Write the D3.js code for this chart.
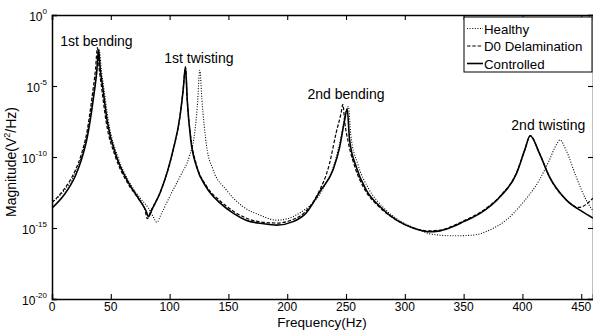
<!DOCTYPE html>
<html lang="en">
<head>
<meta charset="UTF-8">
<title>Frequency response</title>
<script src="https://d3js.org/d3.v7.min.js"></script>
<style>
    body { margin: 0; background: #fff; }
    svg { font-family: "Liberation Sans", Arial, sans-serif; }
    .curve { fill: none; stroke: #000; }
</style>
</head>
<body>
<svg id="chart" width="593" height="332"></svg>
<script>
    // values: [frequency Hz, log10 magnitude]
    var healthy = [
        [0, -13.2], [10, -12.4], [20, -11.1], [25, -10.0], [30, -8.3], [35, -5.7], [38.5, -3.8],
        [40.2, -2.45], [42, -3.9], [44, -5.1], [48, -7.5], [56, -10.0], [66, -11.8], [76, -13.0],
        [82, -13.6], [86, -14.2], [89, -14.6], [93, -14.0], [100, -12.8], [108.7, -11.4], [117, -9.9],
        [121, -8.5], [123.5, -6.5], [125.7, -3.9], [127.5, -6.0], [131.4, -9.2], [137, -10.9],
        [148, -12.3], [162.5, -13.5], [177, -14.1], [191, -14.45], [205, -14.2], [215, -13.7],
        [222, -13.25], [232, -12.0], [240, -10.5], [246, -8.5], [250, -6.8], [252, -6.45], [254, -8.4],
        [260, -10.5], [269, -12.2], [281, -13.5], [296, -14.5], [311, -15.1], [324, -15.45],
        [341, -15.55], [358, -15.5], [372, -15.15], [386, -14.45], [400, -13.26], [414.5, -11.6],
        [423, -10.2], [428.7, -9.15], [432, -8.8], [437, -9.5], [445.7, -11.4], [454, -13.0], [460, -13.8]
    ];
    var delam = [
        [0, -13.2], [10, -12.3], [20, -10.9], [25, -9.8], [30, -8.1], [34, -5.8], [37, -3.8],
        [38.6, -2.3], [40, -3.7], [42, -5.0], [46, -7.5], [54, -10.0], [64, -11.8], [74, -13.0],
        [79, -13.7], [81, -14.35], [84, -13.8], [92, -12.5], [103, -9.5], [108.7, -7.2], [111.5, -5.3],
        [113.5, -3.65], [115, -6.0], [118, -8.6], [123, -10.6], [131, -12.0], [143, -13.1], [154, -13.8],
        [165, -14.3], [180, -14.6], [191, -14.65], [205, -14.4], [216, -13.8], [226, -12.6],
        [236, -10.45], [241.6, -8.3], [245.8, -6.9], [247.3, -6.3], [249, -7.6], [252, -9.0],
        [257.5, -10.7], [266, -12.3], [278, -13.5], [292, -14.4], [306, -14.95], [319, -15.2],
        [330, -15.15], [341, -14.85], [350, -14.5], [364, -13.9], [381, -12.75], [395, -11.1],
        [402, -9.5], [406.6, -8.5], [414.5, -9.75], [423, -11.4], [437, -13.0], [448, -13.55], [460, -12.9]
    ];
    var controlled = [
        [0, -13.6], [10, -12.7], [20, -11.3], [25, -10.2], [30, -8.6], [35, -6.0], [38, -4.0],
        [39.6, -2.45], [41, -3.8], [43, -5.0], [47, -7.5], [55, -10.0], [65, -11.8], [75, -13.1],
        [80, -13.8], [82, -14.2], [85, -13.7], [92, -12.5], [103, -9.5], [108.7, -7.2], [111.5, -5.3],
        [113.5, -3.65], [115, -6.0], [118, -8.8], [123, -10.7], [131, -12.1], [143, -13.25],
        [154, -13.95], [165, -14.45], [180, -14.7], [191, -14.8], [205, -14.55], [216, -13.95],
        [228, -12.4], [239, -10.9], [244.6, -9.3], [248.8, -7.4], [251, -6.6], [253, -8.8],
        [258.7, -10.7], [267, -12.3], [279, -13.5], [293, -14.45], [307, -15.0], [320, -15.26],
        [330, -15.2], [341, -14.9], [350, -14.55], [364, -13.97], [381, -12.8], [395, -11.15],
        [402, -9.5], [406.6, -8.5], [414.5, -9.75], [423, -11.4], [437, -13.0], [451, -13.85], [460, -14.3]
    ];

    var xTicks = [0, 50, 100, 150, 200, 250, 300, 350, 400, 450];
    var yExponents = [0, -5, -10, -15, -20];
    var seriesNames = ["Healthy", "D0 Delamination", "Controlled"];
    var peakLabels = [
        {text: "1st bending", f: 37.8, e: -2.18},
        {text: "1st twisting", f: 124.9, e: -3.38},
        {text: "2nd bending", f: 250, e: -5.95},
        {text: "2nd twisting", f: 422, e: -8.1}
    ];

    var svg = d3.select("#chart");
    var margin = {left: 52, right: 593, top: 15, bottom: 299};

    var x = d3.scaleLinear().domain([0, 460]).range([margin.left, margin.right]);
    var y = d3.scaleLog().domain([1e-20, 1]).range([margin.bottom, margin.top]);

    svg.append("clipPath").attr("id", "clip")
        .append("rect").attr("x", margin.left).attr("y", margin.top)
        .attr("width", margin.right - margin.left).attr("height", margin.bottom - margin.top);

    var line = d3.line()
        .x(function (d) { return x(d[0]); })
        .y(function (d) { return y(Math.pow(10, d[1])); })
        .curve(d3.curveMonotoneX);

    var styles = [
        {data: healthy, dash: "1,1.6", width: 1.1},
        {data: delam, dash: "3.5,1.8", width: 1.2},
        {data: controlled, dash: null, width: 1.6}
    ];

    var g = svg.append("g").attr("clip-path", "url(#clip)");
    styles.forEach(function (s) {
        g.append("path").attr("class", "curve")
            .attr("d", line(s.data))
            .attr("stroke-width", s.width)
            .attr("stroke-dasharray", s.dash);
    });

    // axes with inward ticks on all four sides
    var yTickVals = yExponents.map(function (e) { return Math.pow(10, e); });
    var xb = svg.append("g").attr("transform", "translate(0," + margin.bottom + ")")
        .call(d3.axisBottom(x).tickValues(xTicks).tickSize(-5).tickFormat(""));
    var xt = svg.append("g").attr("transform", "translate(0," + margin.top + ")")
        .call(d3.axisTop(x).tickValues(xTicks).tickSize(-5).tickFormat(""));
    var yl = svg.append("g").attr("transform", "translate(" + margin.left + ",0)")
        .call(d3.axisLeft(y).tickValues(yTickVals).tickSize(-5).tickFormat(""));
    var yr = svg.append("g").attr("transform", "translate(" + margin.right + ",0)")
        .call(d3.axisRight(y).tickValues(yTickVals).tickSize(-5).tickFormat(""));
    [xb, xt, yl, yr].forEach(function (a) {
        a.select(".domain").attr("stroke-width", 1.5);
        a.selectAll(".tick line").attr("stroke-width", 1.1);
    });

    xTicks.forEach(function (t) {
        svg.append("text").attr("x", x(t)).attr("y", margin.bottom + 12)
            .attr("text-anchor", "middle").attr("font-size", 12).text(t);
    });

    yExponents.forEach(function (e) {
        var t = svg.append("text").attr("x", 47).attr("y", y(Math.pow(10, e)) + 6)
            .attr("text-anchor", "end").attr("font-size", 12);
        t.append("tspan").text("10");
        t.append("tspan").attr("dy", -7).attr("font-size", 8).text(e);
    });

    svg.append("text").attr("x", 322).attr("y", 327)
        .attr("text-anchor", "middle").attr("font-size", 13.5).text("Frequency(Hz)");

    var yl2 = svg.append("text").attr("transform", "translate(16,162) rotate(-90)")
        .attr("text-anchor", "middle").attr("font-size", 14);
    yl2.append("tspan").text("Magnitude(V");
    yl2.append("tspan").attr("dy", -6).attr("font-size", 9).text("2");
    yl2.append("tspan").attr("dy", 6).text("/Hz)");

    peakLabels.forEach(function (p) {
        svg.append("text").attr("x", x(p.f)).attr("y", y(Math.pow(10, p.e)))
            .attr("text-anchor", "middle").attr("font-size", 14).text(p.text);
    });

    // legend
    var lg = svg.append("g");
    lg.append("rect").attr("x", 464).attr("y", 17).attr("width", 128).attr("height", 55)
        .attr("fill", "#fff").attr("stroke", "#000").attr("stroke-width", 1);
    seriesNames.forEach(function (n, i) {
        var ly = 28.5 + i * 17.5;
        lg.append("line").attr("x1", 467).attr("x2", 483).attr("y1", ly).attr("y2", ly)
            .attr("stroke", "#000").attr("stroke-width", styles[i].width)
            .attr("stroke-dasharray", styles[i].dash);
        lg.append("text").attr("x", 484).attr("y", ly + 5).attr("font-size", 13.3).text(n);
    });
</script>
</body>
</html>
